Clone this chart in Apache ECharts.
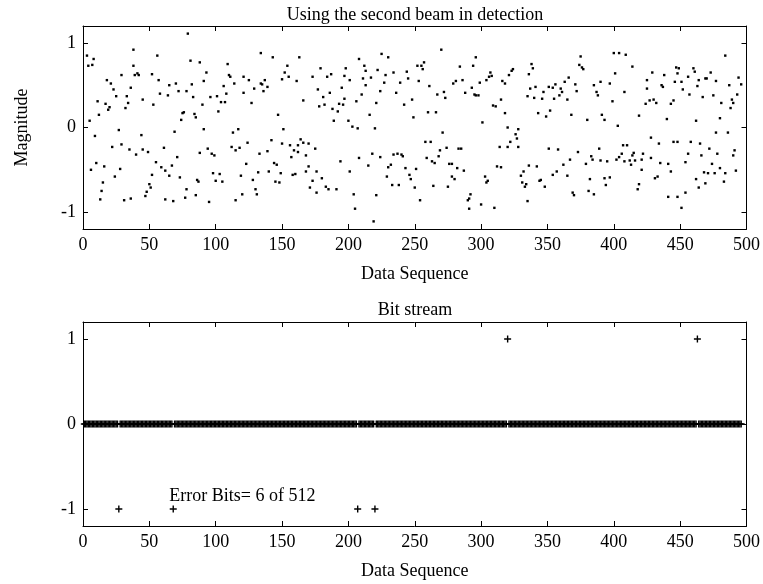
<!DOCTYPE html>
<html>
<head>
<meta charset="utf-8">
<script src="https://cdn.jsdelivr.net/npm/echarts@6/dist/echarts.min.js"></script>
<style>
html,body{margin:0;padding:0;background:#fff;}
#chart{width:763px;height:584px;}
</style>
</head>
<body>
<div id="chart"></div>
<script>
// ---- data ----
const xTicks = [0, 50, 100, 150, 200, 250, 300, 350, 400, 450, 500];
const yTicks = [-1, 0, 1];
const topTitle = 'Using the second beam in detection';
const bottomTitle = 'Bit stream';
const xName = 'Data Sequence';
const yName = 'Magnitude';

// [sequence index, magnitude]
const beamSamples = [
[3,.85],[8,.81],[4,.73],[7,.74],[38,.92],[56,.85],[38,.73],[29,.62],[39,.62],[41,.64],[42,.62],[52,.63],[18,.56],[21,.52],[57,.56],[23,.45],[36,.47],[58,.40],[25,.37],[33,.37],[45,.33],[11,.31],[17,.28],[20,.24],[19,.21],[34,.29],[32,.23],[53,.27],[12,.15],[5,.08],[27,-.03],[9,-.10],[44,-.09],[22,-.23],[29,-.20],[35,-.26],[45,-.26],[61,-.24],[49,-.29],[40,-.32],[10,-.42],[16,-.46],[28,-.49],[6,-.50],[55,-.41],[59,-.47],[62,-.51],[24,-.58],[52,-.56],[15,-.65],[50,-.67],[51,-.71],[14,-.75],[48,-.76],[47,-.81],[13,-.85],[31,-.86],[36,-.84],[62,-.85],
[79,1.11],[81,.79],[88,.77],[109,.75],[93,.65],[110,.62],[111,.60],[121,.60],[125,.56],[65,.50],[70,.52],[82,.51],[91,.55],[106,.49],[114,.52],[64,.38],[72,.43],[78,.43],[83,.36],[96,.36],[101,.37],[108,.40],[121,.41],[90,.27],[104,.30],[107,.30],[75,.17],[76,.18],[84,.16],[85,.12],[102,.19],[74,.09],[69,-.05],[91,-.02],[113,-.06],[117,-.02],[124,-.18],[88,-.30],[94,-.25],[97,-.31],[99,-.33],[112,-.23],[115,-.27],[118,-.24],[71,-.35],[67,-.45],[65,-.57],[73,-.59],[98,-.54],[103,-.55],[123,-.43],[119,-.57],[86,-.62],[87,-.64],[100,-.63],[105,-.64],[78,-.73],[77,-.83],[85,-.80],[68,-.87],[95,-.88],[115,-.86],[120,-.79],
[134,.88],[143,.83],[163,.83],[154,.73],[179,.70],[152,.65],[155,.60],[150,.57],[161,.55],[173,.60],[184,.60],[187,.63],[137,.56],[134,.52],[135,.51],[139,.48],[129,.46],[136,.43],[177,.45],[186,.41],[181,.36],[166,.32],[182,.27],[178,.25],[188,.22],[127,.29],[147,.15],[151,-.02],[142,-.15],[150,-.19],[164,-.14],[166,-.18],[170,-.19],[162,-.21],[156,-.21],[159,-.27],[162,-.29],[175,-.25],[133,-.31],[139,-.28],[157,-.35],[168,-.33],[144,-.42],[146,-.44],[170,-.46],[132,-.53],[140,-.52],[149,-.54],[158,-.56],[160,-.55],[168,-.52],[176,-.52],[128,-.62],[145,-.64],[148,-.65],[173,-.63],[180,-.60],[130,-.73],[131,-.79],[171,-.71],[176,-.77],[183,-.70],[185,-.73],
[225,.87],[230,.83],[208,.81],[212,.73],[198,.70],[222,.68],[213,.67],[244,.66],[252,.73],[197,.61],[201,.56],[211,.58],[217,.59],[228,.62],[234,.65],[245,.58],[227,.53],[239,.53],[213,.50],[195,.47],[224,.43],[210,.39],[236,.41],[197,.34],[206,.31],[221,.29],[248,.33],[193,.28],[196,.27],[242,.27],[192,.19],[216,.15],[249,.12],[189,.08],[200,.08],[203,.01],[207,-.01],[220,-.01],[218,-.31],[234,-.32],[237,-.31],[240,-.32],[241,-.34],[208,-.36],[224,-.35],[194,-.40],[215,-.45],[232,-.44],[230,-.47],[243,-.48],[251,-.49],[201,-.52],[246,-.56],[229,-.58],[247,-.61],[233,-.68],[238,-.68],[250,-.71],[191,-.73],[204,-.79],[221,-.80],[205,-.96],[219,-1.11],
[270,.92],[296,.83],[257,.77],[255,.73],[256,.69],[284,.72],[294,.73],[307,.65],[308,.61],[306,.60],[304,.56],[253,.55],[261,.49],[279,.52],[281,.55],[286,.56],[299,.53],[293,.47],[272,.42],[288,.41],[267,.39],[273,.35],[295,.39],[296,.38],[298,.38],[309,.26],[311,.25],[315,.33],[260,.18],[266,.18],[301,.06],[271,-.06],[258,-.17],[262,-.17],[269,-.27],[274,-.24],[283,-.25],[285,-.25],[314,-.23],[259,-.36],[268,-.34],[263,-.40],[265,-.42],[276,-.43],[278,-.43],[282,-.48],[287,-.51],[312,-.46],[315,-.47],[278,-.58],[280,-.61],[303,-.58],[305,-.63],[304,-.65],[264,-.69],[275,-.70],[292,-.79],[291,-.84],[290,-.86],[300,-.91],[291,-.96],[310,-.95],[254,-.86],
[375,.84],[338,.75],[374,.74],[376,.71],[377,.69],[324,.69],[323,.67],[339,.70],[321,.62],[336,.63],[366,.59],[316,.55],[318,.52],[363,.54],[371,.51],[356,.51],[341,.48],[337,.46],[351,.48],[354,.47],[360,.46],[347,.42],[372,.43],[361,.42],[359,.38],[340,.35],[346,.34],[355,.34],[365,.33],[335,.37],[318,.17],[343,.17],[352,.20],[349,.13],[368,.15],[320,.00],[328,-.02],[326,-.08],[327,-.13],[322,-.17],[320,-.23],[328,-.23],[351,-.25],[358,-.26],[373,-.29],[367,-.38],[336,-.45],[342,-.46],[332,-.52],[362,-.44],[357,-.52],[354,-.56],[365,-.57],[330,-.57],[344,-.63],[345,-.62],[331,-.65],[334,-.67],[333,-.70],[348,-.70],[369,-.77],[370,-.80],[335,-.87],
[400,.88],[404,.88],[409,.86],[414,.72],[401,.64],[429,.65],[425,.56],[390,.54],[397,.52],[385,.50],[436,.50],[437,.48],[425,.46],[387,.42],[388,.38],[408,.42],[399,.31],[427,.32],[430,.33],[432,.29],[424,.28],[391,.15],[419,.14],[380,.09],[393,.09],[403,.02],[428,-.12],[434,-.19],[407,-.21],[410,-.21],[389,-.25],[406,-.31],[415,-.30],[422,-.31],[414,-.33],[383,-.34],[404,-.35],[384,-.38],[390,-.39],[395,-.40],[402,-.38],[408,-.40],[412,-.39],[416,-.39],[421,-.38],[428,-.36],[413,-.44],[379,-.43],[435,-.42],[421,-.50],[382,-.61],[393,-.60],[397,-.59],[431,-.60],[433,-.58],[394,-.68],[419,-.67],[418,-.73],[381,-.75],[385,-.79],
[484,.85],[447,.71],[449,.70],[460,.70],[461,.66],[448,.64],[438,.62],[456,.60],[464,.56],[469,.58],[470,.58],[473,.65],[494,.59],[446,.54],[451,.54],[463,.49],[477,.55],[487,.50],[496,.51],[452,.45],[457,.39],[467,.36],[475,.38],[493,.39],[445,.32],[443,.28],[481,.29],[489,.33],[490,.29],[488,.23],[440,.10],[462,.08],[480,.11],[477,-.06],[486,-.06],[445,-.17],[448,-.17],[458,-.17],[465,-.19],[472,-.25],[456,-.31],[466,-.33],[478,-.31],[491,-.27],[490,-.33],[441,-.43],[454,-.41],[474,-.43],[443,-.52],[468,-.53],[471,-.54],[476,-.54],[480,-.48],[484,-.54],[492,-.51],[462,-.61],[469,-.66],[483,-.64],[464,-.71],[454,-.77],[441,-.82],[448,-.82],[451,-.95]
];

// bit stream (difference), sequence index 1..496
const bitStream = [
0,0,0,0,0,0,0,0,0,0, 0,0,0,0,0,0,0,0,0,0, 0,0,0,0,0,0,-1,0,0,0, 0,0,0,0,0,0,0,0,0,0,
0,0,0,0,0,0,0,0,0,0, 0,0,0,0,0,0,0,0,0,0, 0,0,0,0,0,0,0,-1,0,0, 0,0,0,0,0,0,0,0,0,0,
0,0,0,0,0,0,0,0,0,0, 0,0,0,0,0,0,0,0,0,0, 0,0,0,0,0,0,0,0,0,0, 0,0,0,0,0,0,0,0,0,0,
0,0,0,0,0,0,0,0,0,0, 0,0,0,0,0,0,0,0,0,0, 0,0,0,0,0,0,0,0,0,0, 0,0,0,0,0,0,0,0,0,0,
0,0,0,0,0,0,0,0,0,0, 0,0,0,0,0,0,0,0,0,0, 0,0,0,0,0,0,0,0,0,0, 0,0,0,0,0,0,0,0,0,0,
0,0,0,0,0,0,-1,0,0,0, 0,0,0,0,0,0,0,0,0,-1, 0,0,0,0,0,0,0,0,0,0, 0,0,0,0,0,0,0,0,0,0,
0,0,0,0,0,0,0,0,0,0, 0,0,0,0,0,0,0,0,0,0, 0,0,0,0,0,0,0,0,0,0, 0,0,0,0,0,0,0,0,0,0,
0,0,0,0,0,0,0,0,0,0, 0,0,0,0,0,0,0,0,0,0, 0,0,0,0,0,0,0,0,0,0, 0,0,0,0,0,0,0,0,0,1,
0,0,0,0,0,0,0,0,0,0, 0,0,0,0,0,0,0,0,0,0, 0,0,0,0,0,0,0,0,0,0, 0,0,0,0,0,0,0,0,0,0,
0,0,0,0,0,0,0,0,0,0, 0,0,0,0,0,0,0,0,0,0, 0,0,0,0,0,0,0,0,0,0, 0,0,0,0,0,0,0,0,0,0,
0,0,0,0,0,0,0,0,0,0, 0,0,0,0,0,0,0,0,0,0, 0,0,0,0,0,0,0,0,0,0, 0,0,0,0,0,0,0,0,0,0,
0,0,0,0,0,0,0,0,0,0, 0,0,0,0,0,0,0,0,0,0, 0,0,1,0,0,0,0,0,0,0, 0,0,0,0,0,0,0,0,0,0,
0,0,0,0,0,0,0,0,0,0, 0,0,0,0,0,0
];
const errorNote = 'Error Bits= 6 of 512';
const errorNoteAt = [65, -0.85];

// ---- chart ----
const FONT = 'Liberation Serif';
const black = '#000';
const plusPath = 'path://M-1,-0.2H1V0.2H-1Z M-0.2,-1H0.2V1H-0.2Z';

function xAx(grid, pos, showLabel, withName) {
  return {
    type: 'value', gridIndex: grid, position: pos, min: 0, max: 500, interval: 50,
    axisLine: {show: true, onZero: false, lineStyle: {color: black, width: 1}},
    axisTick: {show: true, inside: true, length: 5, lineStyle: {color: black}},
    axisLabel: {show: showLabel, color: black, fontFamily: FONT, fontSize: 18, margin: 7},
    splitLine: {show: false},
    name: withName ? xName : '', nameLocation: 'middle', nameGap: 36,
    nameTextStyle: {color: black, fontFamily: FONT, fontSize: 18}
  };
}
function yAx(grid, pos, showLabel, withName) {
  return {
    type: 'value', gridIndex: grid, position: pos, min: -1.2, max: 1.2,
    axisLine: {show: true, onZero: false, lineStyle: {color: black, width: 1}},
    axisTick: {show: true, inside: true, length: 5, customValues: yTicks, lineStyle: {color: black}},
    axisLabel: {show: showLabel, customValues: yTicks, color: black, fontFamily: FONT, fontSize: 18, margin: 7},
    splitLine: {show: false},
    name: withName ? yName : '', nameLocation: 'middle', nameGap: 52,
    nameTextStyle: {color: black, fontFamily: FONT, fontSize: 18}
  };
}

const chart = echarts.init(document.getElementById('chart'), null, {renderer: 'canvas'});
chart.setOption({
  animation: false,
  backgroundColor: '#fff',
  title: [
    {text: topTitle, left: 415, top: 6, textAlign: 'center', padding: 0,
     textStyle: {color: black, fontFamily: FONT, fontSize: 18, fontWeight: 'normal'}},
    {text: bottomTitle, left: 415, top: 301, textAlign: 'center', padding: 0,
     textStyle: {color: black, fontFamily: FONT, fontSize: 18, fontWeight: 'normal'}}
  ],
  grid: [
    {left: 83, top: 26, width: 664, height: 203},
    {left: 83, top: 322, width: 664, height: 204}
  ],
  xAxis: [xAx(0, 'bottom', true, true), xAx(0, 'top', false, false),
          xAx(1, 'bottom', true, true), xAx(1, 'top', false, false)],
  yAxis: [yAx(0, 'left', true, true), yAx(0, 'right', false, false),
          yAx(1, 'left', true, false), yAx(1, 'right', false, false)],
  series: [
    {type: 'scatter', xAxisIndex: 0, yAxisIndex: 0, data: beamSamples,
     symbol: 'rect', symbolSize: 2.4, itemStyle: {color: black, opacity: 1}, silent: true},
    {type: 'scatter', xAxisIndex: 2, yAxisIndex: 2,
     data: bitStream.map((v, i) => [i + 1, v]),
     symbol: plusPath, symbolSize: 7, itemStyle: {color: black, opacity: 1}, silent: true},
    {type: 'scatter', xAxisIndex: 2, yAxisIndex: 2, data: [errorNoteAt],
     symbolSize: 0, silent: true, itemStyle: {opacity: 1},
     label: {show: true, position: 'right', distance: 0, formatter: errorNote,
             color: black, opacity: 1, fontFamily: FONT, fontSize: 18}}
  ]
});
</script>
</body>
</html>
